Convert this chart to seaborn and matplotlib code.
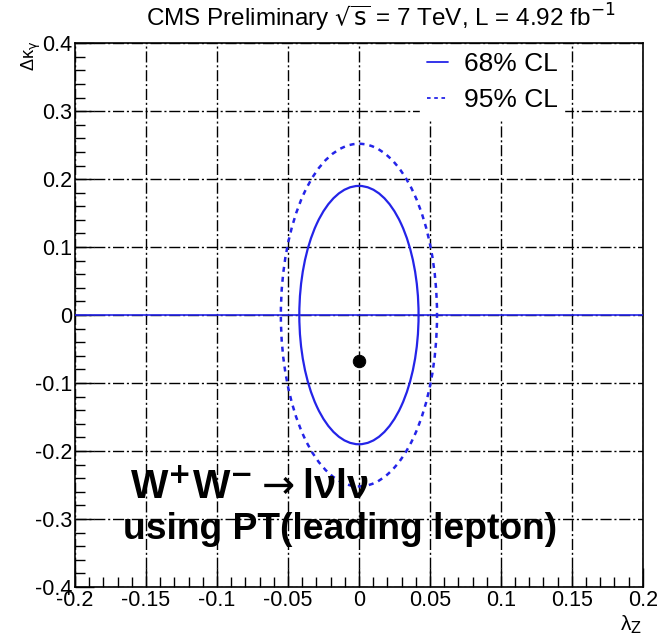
import numpy as np
import pandas as pd
import matplotlib
matplotlib.use("Agg")
import matplotlib.pyplot as plt
from matplotlib.patches import Ellipse
from matplotlib.ticker import MultipleLocator
import seaborn as sns

# Data
best_fit_lz = [0.0]
best_fit_dk = [-0.068]
cl_labels = ["68% CL", "95% CL"]
cl_center = [0.0, 0.0]
cl_half_width = [0.042, 0.055]    # half extent along lambda_Z
cl_half_height = [0.190, 0.252]   # half extent along Delta kappa_gamma
cl_styles = ["-", (0, (2, 2))]
x_ticks = [-0.2, -0.15, -0.1, -0.05, 0, 0.05, 0.1, 0.15, 0.2]
x_tick_labels = ["-0.2", "-0.15", "-0.1", "-0.05", "0", "0.05", "0.1", "0.15", "0.2"]
y_ticks = [-0.4, -0.3, -0.2, -0.1, 0, 0.1, 0.2, 0.3, 0.4]
y_tick_labels = ["-0.4", "-0.3", "-0.2", "-0.1", "0", "0.1", "0.2", "0.3", "0.4"]
sm_line_x = [-0.2, 0.2]
sm_line_y = [0.0, 0.0]

sns.set_theme(style="white")
plt.rcParams['font.family'] = ['Liberation Sans', 'DejaVu Sans']
plt.rcParams['text.color'] = 'black'
plt.rcParams['xtick.color'] = 'black'
plt.rcParams['ytick.color'] = 'black'
plt.rcParams['axes.labelcolor'] = 'black'

fig = plt.figure(figsize=(6.58, 6.44), dpi=100)
ax = fig.add_axes([0.114, 0.0885, 0.863, 0.8445])

blue = "#2424e8"

ax.set_xlim(-0.2, 0.2)
ax.set_ylim(-0.4, 0.4)

# grid
ax.set_axisbelow(True)
ax.grid(True, which="major", color="black", linestyle="-.", linewidth=1.0, dashes=(8, 2, 1.5, 2))

# horizontal line at zero
sns.lineplot(x=sm_line_x, y=sm_line_y, ax=ax, color=blue, linewidth=1.2, zorder=3)

# confidence ellipses
handles = []
for lab, c, w, h, ls in zip(cl_labels, cl_center, cl_half_width, cl_half_height, cl_styles):
    e = Ellipse((c, c), 2 * w, 2 * h, fill=False, edgecolor=blue, linewidth=1.6 if ls == "-" else 1.8,
                linestyle=ls, zorder=4)
    ax.add_patch(e)
    handles.append(plt.Line2D([], [], color=blue, linestyle=ls, linewidth=1.3))

# best-fit point
sns.scatterplot(x=best_fit_lz, y=best_fit_dk, ax=ax, color="black", s=80, edgecolor="black", zorder=5)

# legend
leg = ax.legend(handles, cl_labels, loc="upper right", bbox_to_anchor=(0.885, 1.02), frameon=True,
                fontsize=19, handlelength=0.8, handletextpad=0.6, labelspacing=0.45,
                borderpad=0.25, fancybox=False, framealpha=1.0)
leg.get_frame().set_edgecolor("white")
leg.set_zorder(6)

# ticks
ax.set_xticks(x_ticks)
ax.set_xticklabels(x_tick_labels)
ax.set_yticks(y_ticks)
ax.set_yticklabels(y_tick_labels)
ax.xaxis.set_minor_locator(MultipleLocator(0.01))
ax.yaxis.set_minor_locator(MultipleLocator(0.02))
ax.tick_params(which="both", direction="in", top=False, right=False, bottom=True, left=True,
               colors="black", labelsize=15.5)
ax.tick_params(which="major", length=14, width=1.0, pad=2)
ax.tick_params(which="minor", length=7, width=1.0)
for s in ax.spines.values():
    s.set_color("black")
    s.set_linewidth(1.2)

# axis labels
fig.text(0.975, 0.012, r"λ$_{\mathrm{Z}}$", ha="right", va="bottom", fontsize=15)
fig.text(0.048, 0.937, r"Δκ$_{\mathrm{\gamma}}$", ha="center", va="top", fontsize=13, rotation=90)

# title
fig.text(0.579, 0.972, r"CMS Preliminary $\sqrt{\mathrm{s}}$ = 7 TeV, L = 4.92 fb$^{\mathrm{-1}}$",
         ha="center", va="center", fontsize=17.5)

# annotations
ax.text(-0.161, -0.255, r"W$^{\mathbf{+}}$W$^{\mathbf{-}}$$\rightarrow$lνlν", fontsize=28.5, fontweight="bold",
        ha="left", va="center", zorder=7)
ax.text(-0.166, -0.316, "using PT(leading lepton)", fontsize=26.8, fontweight="bold",
        ha="left", va="center", zorder=7)

fig.savefig("out.png", dpi=100)
